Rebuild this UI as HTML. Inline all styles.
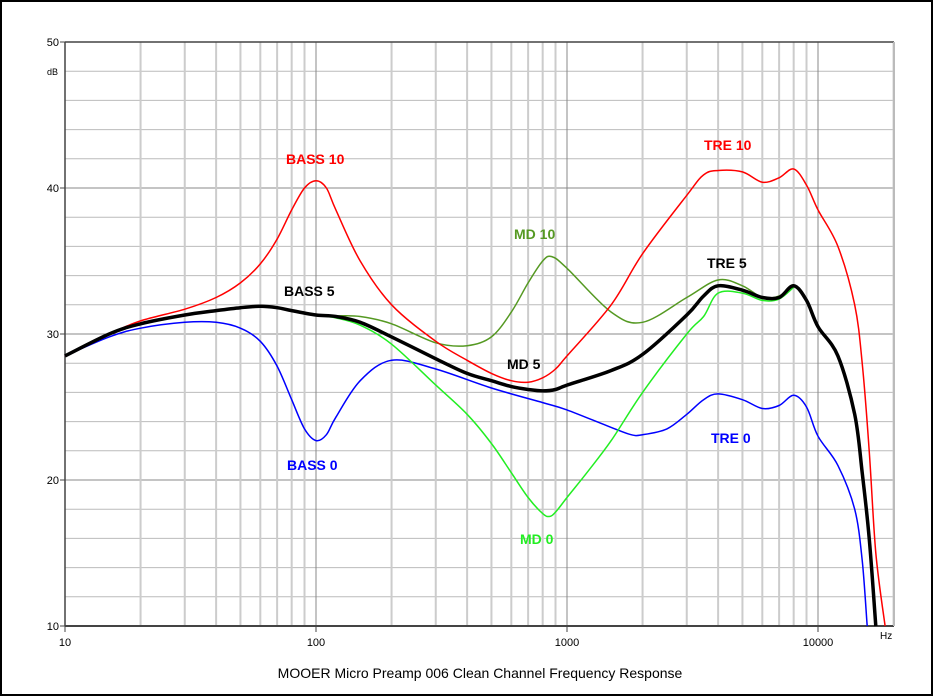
<!DOCTYPE html>
<html><head><meta charset="utf-8"><style>
html,body{margin:0;padding:0;background:#fff;}
svg{display:block;font-family:"Liberation Sans",sans-serif;}
</style></head><body>
<svg id="c" width="933" height="696">
<rect x="1" y="1" width="931" height="694" fill="#fff" stroke="#000" stroke-width="2"/>
<g id="grid"></g>
<g id="series"></g>
<g id="labels"></g>
<text x="480" y="678" text-anchor="middle" font-size="14" fill="#000">MOOER Micro Preamp 006 Clean Channel Frequency Response</text>
</svg>
<script>
const xTicks=[10,100,1000,10000];
const yTicks=[10,20,30,40,50];
const fRed=[10,15,20,30,40,50,60,70,80,90,100,110,120,150,200,300,400,500,600,700,800,900,1000,1500,2000,3000,3500,4000,5000,6000,7000,8000,9000,10000,12000,14000,15000,16000,17000,18500];
const dbRed=[28.5,30,30.9,31.7,32.5,33.5,34.8,36.5,38.5,40,40.5,40,38.5,35,32,29.5,28.2,27.3,26.8,26.7,27,27.6,28.5,32,35.5,39.5,40.9,41.2,41.1,40.4,40.7,41.3,40.2,38.5,36,32,28,22,15,10];
const fBlack=[10,15,20,30,40,50,60,70,80,100,120,150,200,300,400,500,600,700,800,900,1000,1500,2000,3000,3500,4000,5000,6000,7000,8000,9000,10000,12000,14000,15000,16000,17000];
const dbBlack=[28.5,30,30.7,31.3,31.6,31.8,31.9,31.8,31.6,31.3,31.2,30.8,29.8,28.3,27.3,26.8,26.4,26.2,26.1,26.2,26.5,27.5,28.6,31.3,32.6,33.3,33,32.5,32.5,33.3,32.3,30.5,28.5,24.5,20.5,16,10];
const fBlue=[10,15,20,30,40,50,60,70,80,90,100,110,120,150,200,300,500,800,1000,1500,1800,2000,2500,3000,3500,4000,5000,6000,7000,8000,9000,10000,12000,14000,15000,15700];
const dbBlue=[28.5,29.8,30.4,30.8,30.8,30.4,29.5,27.8,25.5,23.5,22.7,23.1,24.3,26.8,28.2,27.6,26.3,25.3,24.8,23.6,23.1,23.1,23.5,24.5,25.5,25.9,25.5,24.9,25.1,25.8,25,23,21,18,14.5,10];
const fMd0=[100,120,150,200,300,400,500,600,700,800,850,900,1000,1200,1500,2000,3000,3500,4000,5000,6000,7000,8000];
const dbMd0=[31.3,31.1,30.6,29.3,26.5,24.5,22.5,20.5,18.8,17.7,17.5,17.8,18.8,20.5,22.7,26,30,31.2,32.8,32.8,32.3,32.4,33.2];
const fMd10=[100,120,150,200,300,400,500,600,700,800,870,1000,1500,2000,3000,4000,5000,6000,7000,8000];
const dbMd10=[31.3,31.25,31.2,30.7,29.4,29.2,29.8,31.5,33.5,35,35.3,34.5,31.5,30.8,32.5,33.7,33.3,32.5,32.6,33.3];

const L=65,T=42,R=894,B=626,DEC=251;
const X=f=>L+(Math.log10(f)-1)*DEC;
const Y=d=>T+(50-d)*(B-T)/40;
const NS='http://www.w3.org/2000/svg';
function mk(tag,attrs,parent){const e=document.createElementNS(NS,tag);for(const k in attrs)e.setAttribute(k,attrs[k]);parent.appendChild(e);return e;}
const grid=document.getElementById('grid');
for(let d=10;d<=50;d+=2){
  const major=d%10===0;
  const ln=mk('line',{x1:L,x2:R,y1:Y(d),y2:Y(d),stroke:major?'#888':'#bbb','stroke-width':1},grid);
  
  
}
for(let dec=10;dec<=10000;dec*=10){
  for(let m=1;m<=9;m++){
    const f=dec*m;const x=X(f);if(x>R)break;
    const ln=mk('line',{x1:x,x2:x,y1:T,y2:B,stroke:m===1?'#888':'#ccc','stroke-width':m===1?1:2},grid);
    
    
  }
}
mk('line',{x1:L,x2:R,y1:T,y2:T,stroke:'#444','stroke-width':1.5},grid);
mk('line',{x1:L,x2:R,y1:B,y2:B,stroke:'#444','stroke-width':2},grid);
mk('line',{x1:L,x2:L,y1:T,y2:B,stroke:'#444','stroke-width':1.5},grid);
mk('line',{x1:R,x2:R,y1:T,y2:B,stroke:'#bbb','stroke-width':2},grid);
xTicks.forEach(f=>{
  mk('line',{x1:X(f),x2:X(f),y1:B,y2:B+6,stroke:'#444'},grid);
  const t=mk('text',{x:X(f),y:B+20,'text-anchor':'middle','font-size':11,fill:'#000'},grid);
  t.textContent=f;
  
  
});
yTicks.forEach(d=>{
  mk('line',{x1:L-5,x2:L,y1:Y(d),y2:Y(d),stroke:'#444'},grid);
  const t=mk('text',{x:L-6,y:Y(d)+4,'text-anchor':'end','font-size':11,fill:'#000'},grid);
  t.textContent=d;
  
  
});
const du=mk('text',{x:L-7,y:Y(48)+4,'text-anchor':'end','font-size':9,fill:'#000'},grid);du.textContent='dB';


const hz=mk('text',{x:R-14,y:B+13,'font-size':10,fill:'#000'},grid);hz.textContent='Hz';



function path(fs,ds){
  const p=fs.map((f,i)=>[X(f),Y(ds[i])]);
  let s='M'+p[0][0].toFixed(1)+','+p[0][1].toFixed(1);
  for(let i=0;i<p.length-1;i++){
    const p0=p[i-1]||p[i],p1=p[i],p2=p[i+1],p3=p[i+2]||p2;
    const c1=[p1[0]+(p2[0]-p0[0])/6,p1[1]+(p2[1]-p0[1])/6];
    const c2=[p2[0]-(p3[0]-p1[0])/6,p2[1]-(p3[1]-p1[1])/6];
    s+='C'+c1.map(v=>v.toFixed(1))+' '+c2.map(v=>v.toFixed(1))+' '+p2[0].toFixed(1)+','+p2[1].toFixed(1);
  }
  return s;
}
const sg=document.getElementById('series');
const defs=[[fBlue,dbBlue,'#0000ff',1.5,'series-bass0-tre0'],[fMd0,dbMd0,'#22ee22',1.5,'series-md0'],[fMd10,dbMd10,'#559922',1.5,'series-md10'],[fRed,dbRed,'#ff0000',1.5,'series-bass10-tre10'],[fBlack,dbBlack,'#000',3.5,'series-flat-5']];
defs.forEach(d=>{
  const e=mk('path',{d:path(d[0],d[1]),fill:'none',stroke:d[2],'stroke-width':d[3],'stroke-linejoin':'round'},sg);
  
  
});
const lg=document.getElementById('labels');
[['BASS 10',286,164,'#ff0000'],['BASS 5',284,296,'#000'],['BASS 0',287,470,'#0000ff'],['MD 10',514,239,'#559922'],['MD 5',507,369,'#000'],['MD 0',520,544,'#22ee22'],['TRE 10',704,150,'#ff0000'],['TRE 5',707,268,'#000'],['TRE 0',711,443,'#0000ff']].forEach(a=>{
  const t=mk('text',{x:a[1],y:a[2],'font-size':14,'font-weight':'bold',fill:a[3]},lg);
  t.textContent=a[0];
  
  
});
</script>
</body></html>
